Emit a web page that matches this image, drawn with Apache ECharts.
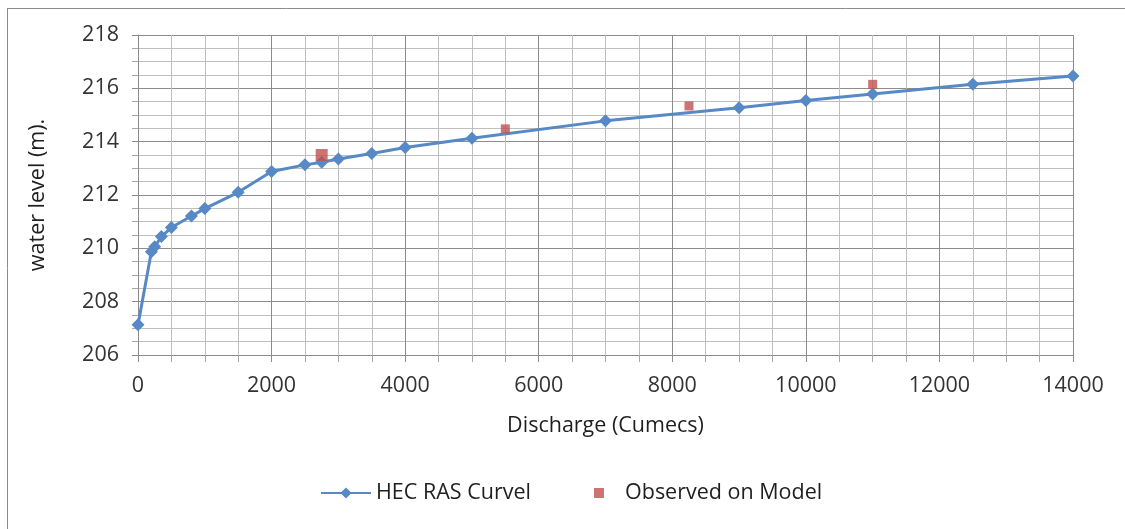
<!DOCTYPE html>
<html>
<head>
<meta charset="utf-8">
<script src="https://cdn.jsdelivr.net/npm/echarts@6/dist/echarts.min.js"></script>
<style>
  html, body { margin: 0; padding: 0; background: #ffffff; }
  #chart { width: 1125px; height: 529px; }
</style>
</head>
<body>
<div id="chart"></div>
<script>
// Rating curve: discharge (cumecs) vs water level (m)
const hecDischarge = [0, 200, 250, 350, 500, 800, 1000, 1500, 2000, 2500, 2750, 3000, 3500, 4000, 5000, 7000, 9000, 10000, 11000, 12500, 14000];
const hecLevel     = [207.13, 209.87, 210.06, 210.44, 210.78, 211.21, 211.49, 212.10, 212.88, 213.13, 213.23, 213.35, 213.56, 213.78, 214.13, 214.78, 215.27, 215.54, 215.79, 216.15, 216.46];

const obsDischarge = [2750, 5500, 8250, 11000];
const obsLevel     = [213.50, 214.48, 215.34, 216.15];

const seriesNames = ['HEC RAS Curvel', 'Observed on Model'];
const xAxisTitle = 'Discharge (Cumecs)';
const yAxisTitle = 'water level (m).';

const FONT = '"Open Sans", "Liberation Sans", sans-serif';
const FS = 21.5;
const TEXT = '#1f1f1f';
const BLUE = '#5689c6';
const RED = '#c0504d';

const chart = echarts.init(document.getElementById('chart'), null, { renderer: 'canvas' });

const legendText = { fontSize: FS, color: TEXT, fontFamily: FONT };

chart.setOption({
  backgroundColor: '#ffffff',
  animation: false,
  textStyle: { fontFamily: FONT },
  grid: { left: 138, right: 52, top: 35, bottom: 174, containLabel: false },
  graphic: [
    { type: 'line', shape: { x1: 7.5, y1: 8, x2: 7.5, y2: 529 }, style: { stroke: '#8c8c8c', lineWidth: 1 } },
    { type: 'line', shape: { x1: 7, y1: 8.5, x2: 1125, y2: 8.5 }, style: { stroke: '#8c8c8c', lineWidth: 1 } }
  ],
  xAxis: {
    type: 'value',
    min: 0, max: 14000, interval: 2000,
    name: xAxisTitle,
    nameLocation: 'middle',
    nameGap: 60,
    nameTextStyle: { fontSize: FS, color: TEXT, fontFamily: FONT },
    axisLine: { show: true, lineStyle: { color: '#8c8c8c', width: 1 } },
    axisTick: { show: true, length: 7, lineStyle: { color: '#8c8c8c' } },
    minorTick: { show: true, splitNumber: 4, length: 7, lineStyle: { color: '#a6a6a6' } },
    axisLabel: { fontSize: FS, color: '#333333', margin: 20, fontFamily: FONT, formatter: v => String(v) },
    splitLine: { show: true, lineStyle: { color: '#8c8c8c', width: 1 } },
    minorSplitLine: { show: true, lineStyle: { color: '#bfbfbf', width: 1 } }
  },
  yAxis: {
    type: 'value',
    min: 206, max: 218, interval: 2,
    name: yAxisTitle,
    nameLocation: 'middle',
    nameGap: 89,
    nameTextStyle: { fontSize: FS, color: TEXT, fontFamily: FONT },
    axisLine: { show: true, lineStyle: { color: '#8c8c8c', width: 1 } },
    axisTick: { show: true, length: 6, lineStyle: { color: '#8c8c8c' } },
    minorTick: { show: true, splitNumber: 4, length: 6, lineStyle: { color: '#a6a6a6' } },
    axisLabel: { fontSize: FS, color: '#333333', margin: 19, fontFamily: FONT },
    splitLine: { show: true, lineStyle: { color: '#8c8c8c', width: 1 } },
    minorSplitLine: { show: true, lineStyle: { color: '#bfbfbf', width: 1 } }
  },
  legend: [
    {
      data: [seriesNames[0]],
      left: 320,
      top: 482,
      padding: 0,
      itemWidth: 50,
      itemHeight: 14,
      textStyle: legendText
    },
    {
      data: [seriesNames[1]],
      left: 594,
      top: 482,
      padding: 0,
      itemWidth: 10,
      itemHeight: 10,
      textStyle: Object.assign({}, legendText, { padding: [0, 0, 0, 16] })
    }
  ],
  series: [
    {
      name: seriesNames[0],
      type: 'line',
      data: hecDischarge.map((q, i) => [q, hecLevel[i]]),
      symbol: 'diamond',
      symbolSize: 13,
      showAllSymbol: true,
      lineStyle: { color: BLUE, width: 3 },
      itemStyle: { color: BLUE },
      z: 3
    },
    {
      name: seriesNames[1],
      type: 'scatter',
      data: obsDischarge.map((q, i) => ({
        value: [q, obsLevel[i]],
        symbolSize: i === 0 ? 12 : 9
      })),
      symbol: 'rect',
      itemStyle: { color: RED },
      z: 4
    }
  ]
});
</script>
</body>
</html>
